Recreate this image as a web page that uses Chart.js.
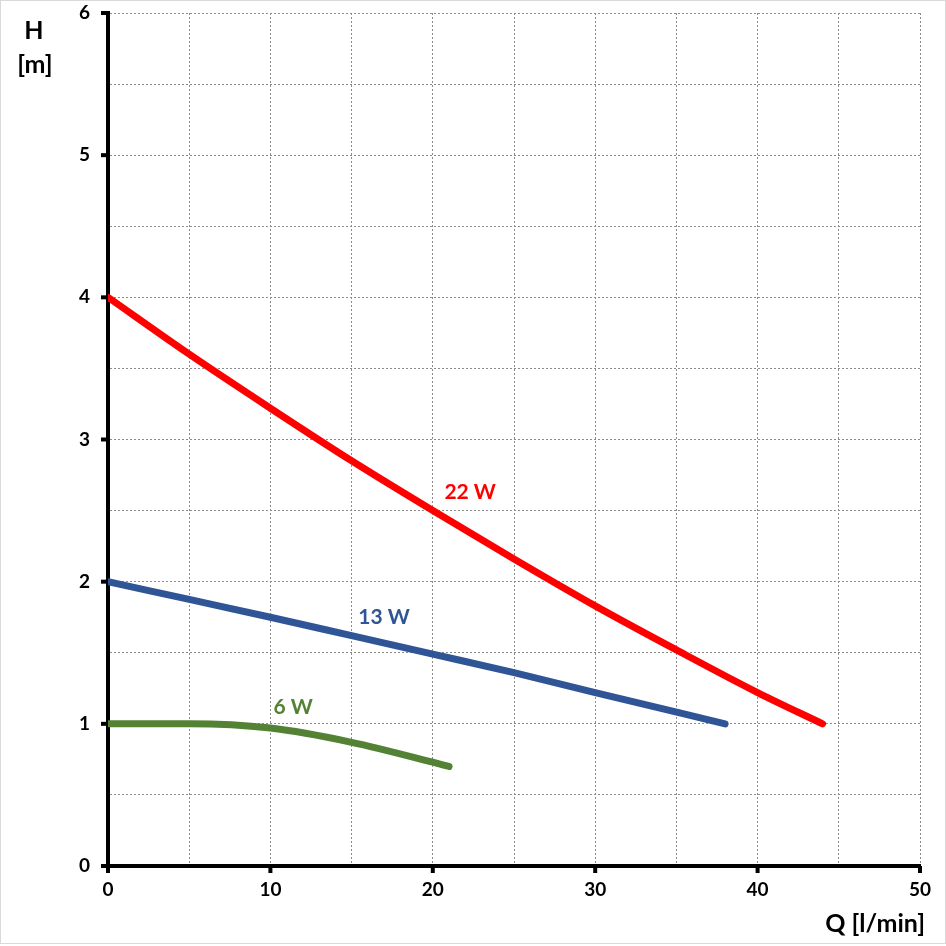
<!DOCTYPE html>
<html>
<head>
<meta charset="utf-8">
<script src="https://cdn.jsdelivr.net/npm/chart.js@4.4.1/dist/chart.umd.min.js"></script>
<style>
  html, body { margin: 0; padding: 0; background: #fff; }
  #wrap { width: 946px; height: 946px; }
</style>
</head>
<body>
<div id="wrap"><canvas id="chart" width="946" height="946"></canvas></div>
<script>
// pump curves, Q [l/min] vs H [m]
const q22 = [0, 5, 10, 15, 20, 25, 30, 35, 40, 44];
const h22 = [4.0, 3.6, 3.22, 2.85, 2.5, 2.16, 1.83, 1.52, 1.22, 1.0];

const q13 = [0, 5, 10, 15, 20, 25, 30, 38];
const h13 = [2.0, 1.875, 1.75, 1.62, 1.49, 1.36, 1.22, 1.0];

const q6 = [0, 5, 10, 15, 20, 21];
const h6 = [1.0, 1.0, 0.97, 0.87, 0.73, 0.7];

const seriesNames = ["22 W", "13 W", "6 W"];
const seriesColors = ["#ff0000", "#2f5597", "#548235"];
const labelAt = [[22.3, 2.63], [17.0, 1.75], [11.4, 1.12]];

const xTicks = [0, 10, 20, 30, 40, 50];
const yTicks = [0, 1, 2, 3, 4, 5, 6];

const FONT = "Lato, 'Open Sans', sans-serif";

function toPoints(xs, ys) {
  return xs.map((x, i) => ({ x: x, y: ys[i] }));
}

function makeDataset(i, xs, ys) {
  return {
    label: seriesNames[i],
    data: toPoints(xs, ys),
    borderColor: seriesColors[i],
    borderWidth: 7,
    borderCapStyle: "round",
    borderJoinStyle: "round",
    cubicInterpolationMode: "monotone",
    pointRadius: 0,
    fill: false,
  };
}

const extras = {
  id: "extras",
  afterDraw(chart) {
    const ctx = chart.ctx;
    const xs = chart.scales.x;
    const ys = chart.scales.y;
    const area = chart.chartArea;
    ctx.save();

    // outer frame
    ctx.strokeStyle = "#d9d9d9";
    ctx.lineWidth = 1;
    ctx.strokeRect(0.5, 0.5, 945, 943);

    // major tick marks
    ctx.strokeStyle = "#000";
    ctx.lineWidth = 4;
    yTicks.forEach((v) => {
      const y = ys.getPixelForValue(v);
      ctx.beginPath();
      ctx.moveTo(area.left - 7, y);
      ctx.lineTo(area.left, y);
      ctx.stroke();
    });
    xTicks.forEach((v) => {
      const x = xs.getPixelForValue(v);
      ctx.beginPath();
      ctx.moveTo(x, area.bottom);
      ctx.lineTo(x, area.bottom + 7);
      ctx.stroke();
    });

    // series labels
    ctx.font = "bold 21px " + FONT;
    ctx.textAlign = "center";
    ctx.textBaseline = "middle";
    labelAt.forEach((p, i) => {
      ctx.fillStyle = seriesColors[i];
      ctx.fillText(seriesNames[i], xs.getPixelForValue(p[0]), ys.getPixelForValue(p[1]));
    });

    // axis titles
    ctx.fillStyle = "#000";
    ctx.font = "bold 25px " + FONT;
    ctx.fillText("H", 34, 31);
    ctx.fillText("[m]", 35, 65);
    ctx.textAlign = "right";
    ctx.fillText("Q [l/min]", 925, 924);
    ctx.restore();
  },
};

const gridOpts = {
  color: "#8c8c8c",
  lineWidth: 1,
  drawTicks: false,
};

new Chart(document.getElementById("chart"), {
  type: "line",
  data: {
    datasets: [
      makeDataset(0, q22, h22),
      makeDataset(1, q13, h13),
      makeDataset(2, q6, h6),
    ],
  },
  options: {
    responsive: false,
    animation: false,
    layout: { padding: { left: 0, top: 13, right: 26, bottom: 0 } },
    plugins: {
      legend: { display: false },
      tooltip: { enabled: false },
    },
    scales: {
      x: {
        type: "linear",
        min: 0,
        max: 50,
        grid: gridOpts,
        border: { display: true, color: "#000", width: 4, dash: [2, 2] },
        ticks: {
          stepSize: 5,
          color: "#000",
          font: { family: FONT, size: 19, weight: "bold" },
          padding: 12,
          maxRotation: 0,
          autoSkip: false,
          callback: (v) => (xTicks.includes(v) ? String(v) : ""),
        },
        afterFit: (s) => {
          s.height = 80;
          s.paddingLeft = 0;
          s.paddingRight = 0;
        },
      },
      y: {
        type: "linear",
        min: 0,
        max: 6,
        grid: gridOpts,
        border: { display: true, color: "#000", width: 4, dash: [2, 2] },
        ticks: {
          stepSize: 0.5,
          color: "#000",
          font: { family: FONT, size: 19, weight: "bold" },
          padding: 18,
          autoSkip: false,
          callback: (v) => (yTicks.includes(v) ? String(v) : ""),
        },
        afterFit: (s) => {
          s.width = 108;
          s.paddingTop = 0;
          s.paddingBottom = 0;
        },
      },
    },
  },
  plugins: [extras],
});
</script>
</body>
</html>
